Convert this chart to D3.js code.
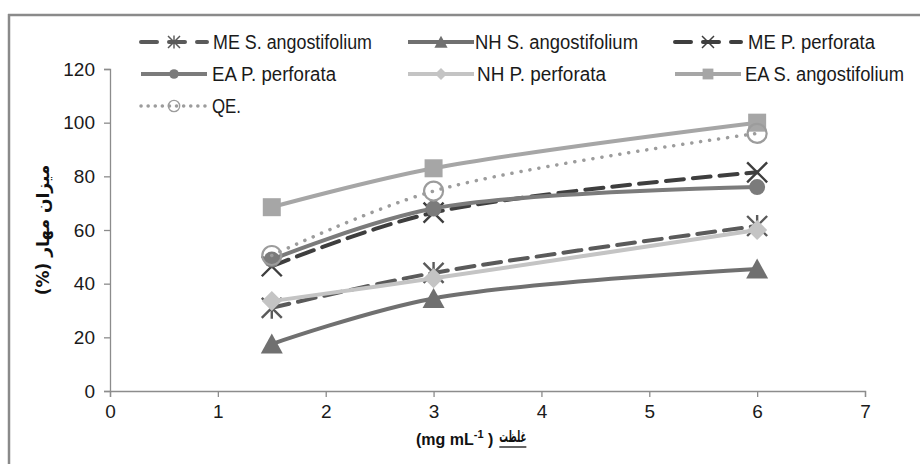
<!DOCTYPE html>
<html><head><meta charset="utf-8">
<script src="https://cdn.jsdelivr.net/npm/d3@7"></script>
<style>
html,body{margin:0;padding:0;background:#fff;}
svg{display:block;}
</style></head>
<body>
<svg id="chart" width="920" height="464"></svg>
<script>
// ---- data ----
const concentrations = [1.5, 3, 6];
const seriesNames = ["ME S. angostifolium","NH S. angostifolium","ME P. perforata","EA P. perforata","NH P. perforata","EA S. angostifolium","QE."];
const meSAngostifolium = [31, 44, 61.5];
const nhSAngostifolium = [17.5, 34.5, 45.5];
const mePPerforata = [46.5, 66.5, 81.5];
const eaPPerforata = [49, 68, 76];
const nhPPerforata = [33.5, 42, 60];
const eaSAngostifolium = [68.5, 83, 100];
const qeValues = [50.5, 74.5, 96];
const xTickValues = [0,1,2,3,4,5,6,7];
const yTickValues = [0,20,40,60,80,100,120];
const xTitleLatin = "(mg mL";
const xTitleSup = "-1";
const xTitleClose = " )";
const xTitlePersian = "غلظت";
const yTitle = "میزان مهار (%)";

// ---- styles ----
const styles = [
  {color:"#5a5a5a", dash:"18 9", marker:"star"},
  {color:"#707070", dash:null, marker:"triangle"},
  {color:"#3e3e3e", dash:"18 9", marker:"x"},
  {color:"#7b7b7b", dash:null, marker:"circle"},
  {color:"#c4c4c4", dash:null, marker:"diamond"},
  {color:"#a6a6a6", dash:null, marker:"square"},
  {color:"#9c9c9c", dash:"0.1 9", marker:"ocircle"}
];
const valuesList = [meSAngostifolium,nhSAngostifolium,mePPerforata,eaPPerforata,nhPPerforata,eaSAngostifolium,qeValues];
const series = seriesNames.map((n,i)=>({name:n, values:valuesList[i], ...styles[i]}));

const svg = d3.select("#chart");
// frame
svg.append("line").attr("x1",8).attr("x2",920).attr("y1",15).attr("y2",15).attr("stroke","#8a8a8a").attr("stroke-width",2.5);
svg.append("line").attr("x1",9).attr("x2",9).attr("y1",14).attr("y2",464).attr("stroke","#8a8a8a").attr("stroke-width",2.5);

const x = d3.scaleLinear().domain([0,7]).range([110,865]);
const y = d3.scaleLinear().domain([0,120]).range([391,69]);
const axisColor = "#8c8c8c";
const tickFont = "'Liberation Sans Narrow','Arial Narrow',sans-serif";

const xAxis = svg.append("g").attr("transform","translate(0,391)")
  .call(d3.axisBottom(x).tickValues(xTickValues).tickSize(6).tickPadding(8).tickFormat(d3.format("d")));
const yAxis = svg.append("g").attr("transform","translate(110,0)")
  .call(d3.axisLeft(y).tickValues(yTickValues).tickSize(6).tickPadding(9).tickFormat(d3.format("d")));
[xAxis,yAxis].forEach(g=>{
  g.select(".domain").attr("stroke",axisColor).attr("stroke-width",1.3);
  g.selectAll(".tick line").attr("stroke",axisColor).attr("stroke-width",1.3);
  g.selectAll(".tick text").attr("fill","#1a1a1a").attr("font-family",tickFont).attr("font-size",19);
});

// markers
function markerPath(type, cx, cy, s){
  const h = s/2;
  switch(type){
    case "square": return `M${cx-h},${cy-h}h${s}v${s}h${-s}Z`;
    case "triangle": return `M${cx},${cy-h*1.05}L${cx+h*1.1},${cy+h*0.95}L${cx-h*1.1},${cy+h*0.95}Z`;
    case "diamond": return `M${cx},${cy-h}L${cx+h},${cy}L${cx},${cy+h}L${cx-h},${cy}Z`;
    case "x": return `M${cx-h},${cy-h}L${cx+h},${cy+h}M${cx-h},${cy+h}L${cx+h},${cy-h}`;
    case "star": return `M${cx-h},${cy-h}L${cx+h},${cy+h}M${cx-h},${cy+h}L${cx+h},${cy-h}M${cx},${cy-h*1.1}L${cx},${cy+h*1.1}`;
  }
}
function drawMarker(g, s, cx, cy, scale){
  const k = scale||1;
  if(s.marker==="circle"){
    g.append("circle").attr("cx",cx).attr("cy",cy).attr("r",8*k).attr("fill",s.color);
  } else if(s.marker==="ocircle"){
    g.append("circle").attr("cx",cx).attr("cy",cy).attr("r",9.5*k).attr("fill","none").attr("stroke",s.color).attr("stroke-width",2.2*k);
  } else if(s.marker==="x"||s.marker==="star"){
    g.append("path").attr("d",markerPath(s.marker,cx,cy,20*k)).attr("stroke",s.color).attr("stroke-width",2.4*k).attr("fill","none");
  } else {
    const size = s.marker==="square"?18:20;
    g.append("path").attr("d",markerPath(s.marker,cx,cy,size*k)).attr("fill",s.color);
  }
}

const line = d3.line().x(d=>x(d[0])).y(d=>y(d[1])).curve(d3.curveCatmullRom.alpha(0.5));
const plot = svg.append("g");
series.forEach(s=>{
  const g = plot.append("g");
  const pts = concentrations.map((c,i)=>[c,s.values[i]]);
  g.append("path").attr("d",line(pts)).attr("fill","none").attr("stroke",s.color)
    .attr("stroke-width", s.marker==="ocircle"?3.5:4).attr("stroke-linecap","round")
    .attr("stroke-dasharray",s.dash);
  pts.forEach(p=>drawMarker(g,s,x(p[0]),y(p[1]),1));
});

// legend
const legendFont = "'Liberation Sans Narrow','Arial Narrow',sans-serif";
const legendItems = [
  {lx:141,tx:213,tw:159,row:0},
  {lx:408,tx:475,tw:163,row:0},
  {lx:675,tx:748,tw:127,row:0},
  {lx:141,tx:212,tw:124,row:1},
  {lx:408,tx:477,tw:129,row:1},
  {lx:675,tx:745,tw:159,row:1},
  {lx:141,tx:212,tw:29,row:2}
];
const rowY = [42,74,106];
const legend = svg.append("g");
series.forEach((s,i)=>{
  const it = legendItems[i];
  const yy = rowY[it.row];
  const g = legend.append("g");
  g.append("line").attr("x1",it.lx).attr("x2",it.lx+66).attr("y1",yy).attr("y2",yy)
    .attr("stroke",s.color).attr("stroke-width",s.marker==="ocircle"?3.5:4)
    .attr("stroke-linecap", s.dash?"round":"butt")
    .attr("stroke-dasharray", s.dash? (s.marker==="ocircle"?"0.1 7":"16 12"):null);
  drawMarker(g,s,it.lx+33,yy,0.6);
  g.append("text").attr("x",it.tx).attr("y",yy+7).text(s.name)
    .attr("font-family",legendFont).attr("font-size",20).attr("fill","#1a1a1a")
    .attr("textLength",it.tw).attr("lengthAdjust","spacingAndGlyphs");
});

// x axis title: one text with a superscript tspan, Persian word placed after it
const xt = svg.append("text").attr("x",416).attr("y",445).attr("font-family","'Liberation Sans',sans-serif")
  .attr("font-weight","bold").attr("font-size",16).attr("fill","#111");
xt.append("tspan").text(xTitleLatin);
xt.append("tspan").attr("dy",-7).attr("font-size",11).text(xTitleSup);
xt.append("tspan").attr("dy",7).text(xTitleClose);
const xEnd = 416 + xt.node().getComputedTextLength() + 6;
svg.append("text").attr("x",xEnd).attr("y",442).attr("text-anchor","start")
  .attr("font-family","'DejaVu Sans',sans-serif").attr("font-weight","bold").attr("font-size",16)
  .attr("fill","#111").attr("textLength",27).attr("lengthAdjust","spacingAndGlyphs").text(xTitlePersian);
svg.append("line").attr("x1",xEnd).attr("x2",xEnd+27).attr("y1",447).attr("y2",447).attr("stroke","#111").attr("stroke-width",1.3);

svg.append("text").attr("transform","translate(49,230) rotate(-90)").attr("text-anchor","middle")
  .attr("font-family","'DejaVu Sans',sans-serif").attr("font-weight","bold").attr("font-size",17)
  .attr("fill","#111").attr("direction","rtl").text(yTitle);
</script>
</body></html>
